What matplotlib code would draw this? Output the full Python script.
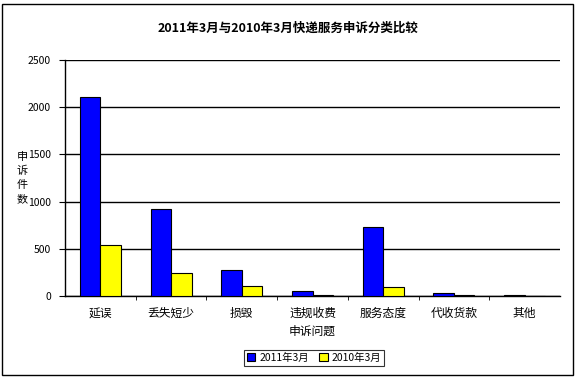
import numpy as np
import matplotlib.pyplot as plt
from matplotlib.patches import Rectangle

plt.rcParams['font.family'] = ['Noto Sans CJK SC', 'DejaVu Sans']
plt.rcParams['font.size'] = 7.5

# data
cats = ['延误', '丢失短少', '损毁', '违规收费', '服务态度', '代收货款', '其他']
v2011 = [2105, 920, 275, 53, 731, 32, 6]
v2010 = [545, 244, 106, 10, 95, 8, 4]
yticks = [0, 500, 1000, 1500, 2000, 2500]

fig = plt.figure(figsize=(5.76, 3.77), dpi=100)
ax = fig.add_axes([65/576, 1-296/377, 495/576, 236/377])

x = np.arange(len(cats))
w = 0.29
ax.bar(x - w/2, v2011, w, color='#0000FF', edgecolor='black', linewidth=0.8, label='2011年3月', zorder=3)
ax.bar(x + w/2, v2010, w, color='#FFFF00', edgecolor='black', linewidth=0.8, label='2010年3月', zorder=3)

ax.set_xlim(-0.5, len(cats) - 0.5)
ax.set_ylim(0, 2500)
ax.set_yticks(yticks)
ax.set_yticklabels([str(t) for t in yticks])
ax.yaxis.grid(True, color='black', linewidth=1)
ax.set_axisbelow(True)
for s in ['top', 'right']:
    ax.spines[s].set_visible(False)
ax.spines['left'].set_linewidth(1)
ax.spines['bottom'].set_linewidth(1)

ax.set_xticks(x)
ax.set_xticklabels(cats, fontsize=8.5)
ax.tick_params(axis='x', length=0, pad=8)
ax.set_xticks(np.arange(0.5, len(cats) - 0.5), minor=True)
ax.tick_params(axis='x', which='minor', length=3, direction='out')
ax.tick_params(axis='y', length=4, direction='out', pad=6)

ax.set_xlabel('申诉问题', labelpad=3, fontsize=8.5)
fig.text(22/576, 1-178/377, '申\n诉\n件\n数', ha='center', va='center', fontsize=8, linespacing=1.45)

fig.suptitle('2011年3月与2010年3月快递服务申诉分类比较', y=1-22/377, fontsize=9, fontweight='bold')

leg = fig.legend(loc='center', bbox_to_anchor=(314/576, 1-358/377), ncol=2, frameon=True,
                 fancybox=False, edgecolor='black', handlelength=0.8, handleheight=0.8,
                 handletextpad=0.4, columnspacing=1.0, borderpad=0.25)
leg.get_frame().set_linewidth(0.8)

fig.patches.append(Rectangle((2/576, 2/377), 571/576, 371/377, transform=fig.transFigure,
                             fill=False, edgecolor='black', linewidth=1))

fig.savefig('out.png', dpi=100)
